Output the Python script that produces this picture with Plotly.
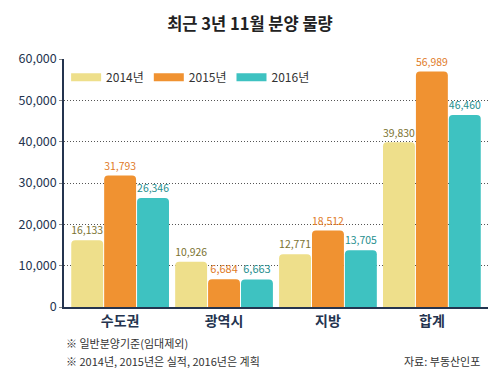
import plotly.graph_objects as go

categories = ["수도권", "광역시", "지방", "합계"]
series_names = ["2014년", "2015년", "2016년"]
values_2014 = [16133, 10926, 12771, 39830]
values_2015 = [31793, 6684, 18512, 56989]
values_2016 = [26346, 6663, 13705, 46460]
y_ticks = [0, 10000, 20000, 30000, 40000, 50000, 60000]
title_text = "최근 3년 11월 분양 물량"
note_lines = ["※ 일반분양기준(임대제외)", "※ 2014년, 2015년은 실적, 2016년은 계획"]
source_text = "자료: 부동산인포"

bar_colors = ["#EEDF8B", "#F09231", "#3EC2C1"]
label_colors = ["#7A7230", "#E07A1F", "#1E8E8E"]
navy = "#24344F"
font_family = "Noto Sans CJK KR, Noto Sans, sans-serif"

fig = go.Figure()
for name, vals, col, lcol in zip(series_names, [values_2014, values_2015, values_2016], bar_colors, label_colors):
    fig.add_trace(go.Bar(
        x=categories, y=vals, name=name,
        marker=dict(color=col, line=dict(width=0), cornerradius=4),
        text=[f"{v:,}" for v in vals], textposition="outside",
        textfont=dict(color=lcol, size=11, family=font_family),
        cliponaxis=False, showlegend=False,
    ))
    fig.add_trace(go.Scatter(
        x=[None], y=[None], mode="lines", name=name,
        line=dict(color=col, width=8), showlegend=True,
    ))

fig.update_layout(
    width=500, height=375,
    margin=dict(l=64, r=12, t=59, b=68),
    paper_bgcolor="white", plot_bgcolor="white",
    barmode="group", bargap=0.05, bargroupgap=0.03,
    font=dict(family=font_family, color=navy),
    title=dict(text=f"<b>{title_text}</b>", x=0.5, xanchor="center", y=0.935, yanchor="middle",
               font=dict(size=16.5, color="#222222", family=font_family)),
    legend=dict(orientation="h", x=0.005, y=0.985, xanchor="left", yanchor="top",
                font=dict(size=12, color="#333333", family=font_family),
                bgcolor="rgba(0,0,0,0)", itemwidth=30, tracegroupgap=0),
    xaxis=dict(range=[-0.54, 3.54], showgrid=False, showline=True, linecolor=navy, linewidth=1.5,
               ticks="", tickfont=dict(size=14, color=navy, family=font_family),
               tickprefix="<b>", ticksuffix="</b>"),
    yaxis=dict(range=[0, 60000], tickvals=y_ticks, tickformat=",", showgrid=True,
               gridcolor="#555555", griddash="1px,2px", gridwidth=1,
               showline=True, linecolor=navy, linewidth=1.5, zeroline=False,
               ticks="outside", ticklen=3, tickcolor="#888888",
               tickfont=dict(size=12.5, color=navy, family=font_family)),
    annotations=[
        dict(text=note_lines[0], xref="paper", yref="paper", x=0.0, y=-0.145, xanchor="left", yanchor="middle",
             showarrow=False, font=dict(size=11, color="#333333", family=font_family)),
        dict(text=note_lines[1], xref="paper", yref="paper", x=0.0, y=-0.218, xanchor="left", yanchor="middle",
             showarrow=False, font=dict(size=11, color="#333333", family=font_family)),
        dict(text=source_text, xref="paper", yref="paper", x=0.985, y=-0.218, xanchor="right", yanchor="middle",
             showarrow=False, font=dict(size=11, color="#333333", family=font_family)),
    ],
)

fig.write_html("out.html", config={"displayModeBar": False},
               post_script="document.body.style.margin='0';")
